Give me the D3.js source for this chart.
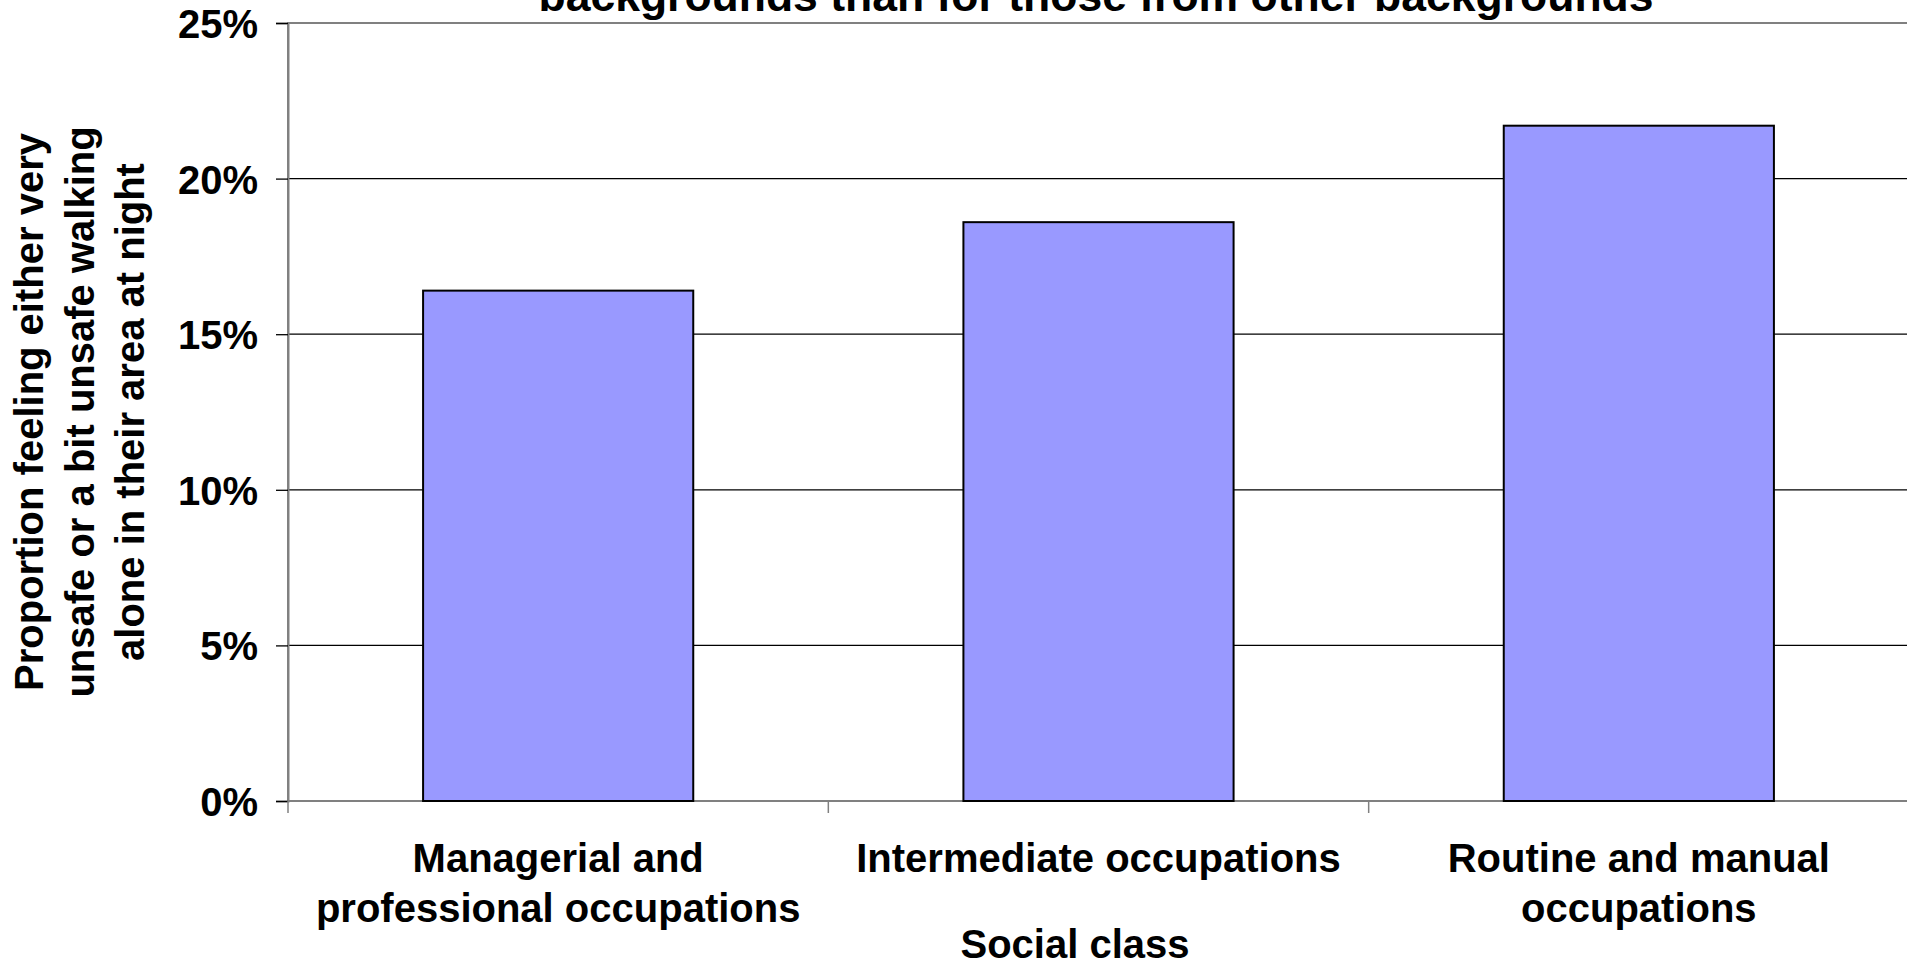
<!DOCTYPE html>
<html>
<head>
<meta charset="utf-8">
<script src="https://cdn.jsdelivr.net/npm/d3@7"></script>
<style>
  body { margin: 0; background: #fff; }
  text { font-family: Arial, "Liberation Sans", sans-serif; font-weight: bold; fill: #000; }
</style>
</head>
<body>
<svg id="chart" width="1907" height="963"></svg>
<script>
var categories = ['Managerial and professional occupations', 'Intermediate occupations', 'Routine and manual occupations'];
var catLines = [['Managerial and', 'professional occupations'], ['Intermediate occupations'], ['Routine and manual', 'occupations']];
var values = [0.164, 0.186, 0.217];
var yTicks = [0, 0.05, 0.10, 0.15, 0.20, 0.25];
var yTitle = ['Proportion feeling either very', 'unsafe or a bit unsafe walking', 'alone in their area at night'];
var xTitle = 'Social class';
var titleLine = 'backgrounds than for those from other backgrounds';

var svg = d3.select('#chart');

// plot box (note: "top" clashes with window.top, so use other names)
var plotL = 288, plotR = 1909, plotT = 23, plotB = 801;

var x = d3.scaleBand()
    .domain(categories)
    .range([plotL, plotR])
    .paddingInner(0.5)
    .paddingOuter(0.25);

var y = d3.scaleLinear()
    .domain([0, 0.25])
    .range([plotB, plotT]);

// gridlines
svg.append('g')
   .selectAll('line')
   .data(yTicks.slice(1, -1))
   .enter().append('line')
   .attr('x1', plotL).attr('x2', plotR)
   .attr('y1', function(d){ return y(d); })
   .attr('y2', function(d){ return y(d); })
   .style('stroke', '#000')
   .style('stroke-width', 1.3);

// plot area border
svg.append('rect')
   .attr('x', plotL).attr('y', plotT)
   .attr('width', plotR - plotL).attr('height', plotB - plotT)
   .style('fill', 'none')
   .style('stroke', '#808080')
   .style('stroke-width', 2);

// bars
svg.append('g')
   .selectAll('rect')
   .data(values)
   .enter().append('rect')
   .attr('x', function(d, i){ return x(categories[i]); })
   .attr('y', function(d){ return y(d); })
   .attr('width', x.bandwidth())
   .attr('height', function(d){ return y(0) - y(d); })
   .style('fill', '#9999FF')
   .style('stroke', '#000')
   .style('stroke-width', 2);

// y axis
var yAxis = svg.append('g')
   .attr('transform', 'translate(' + plotL + ',0)')
   .call(d3.axisLeft(y).tickValues(yTicks).tickFormat(d3.format('.0%')).tickSize(12).tickPadding(18));
yAxis.select('.domain').style('stroke', '#808080').style('stroke-width', 2);
yAxis.selectAll('.tick line').style('stroke', '#000').style('stroke-width', 1.3);
yAxis.selectAll('.tick text')
   .attr('dy', '0.36em')
   .style('font-size', '40px')
   .style('font-family', 'Arial, "Liberation Sans", sans-serif')
   .style('font-weight', 'bold')
   .style('fill', '#000');

// x axis ticks at category boundaries
var step = x.step();
var bounds = categories.map(function(c){ return x(c) - step * 0.25; });
bounds.push(plotR);
svg.append('g')
   .selectAll('line')
   .data(bounds)
   .enter().append('line')
   .attr('x1', function(d){ return d; })
   .attr('x2', function(d){ return d; })
   .attr('y1', plotB)
   .attr('y2', plotB + 12)
   .style('stroke', '#808080')
   .style('stroke-width', 1.5);

// category labels
var labels = svg.append('g')
   .selectAll('text')
   .data(categories)
   .enter().append('text')
   .attr('text-anchor', 'middle')
   .style('font-size', '40px');
labels.each(function(c, i){
    var t = d3.select(this);
    catLines[i].forEach(function(line, j){
        t.append('tspan')
         .attr('x', x(c) + x.bandwidth() / 2)
         .attr('y', 872 + j * 50)
         .text(line);
    });
});

// x title
svg.append('text')
   .attr('x', 1075)
   .attr('y', 958)
   .attr('text-anchor', 'middle')
   .style('font-size', '40px')
   .text(xTitle);

// y title
svg.append('g')
   .selectAll('text')
   .data(yTitle)
   .enter().append('text')
   .attr('transform', function(d, i){ return 'translate(' + (43 + i * 50.5) + ',' + ((plotT + plotB) / 2) + ') rotate(-90)'; })
   .attr('text-anchor', 'middle')
   .style('font-size', '40px')
   .text(function(d){ return d; });

// chart title (only the lower line is visible)
svg.append('text')
   .attr('x', 1096)
   .attr('y', 11)
   .attr('text-anchor', 'middle')
   .style('font-size', '44.5px')
   .text(titleLine);
</script>
</body>
</html>
